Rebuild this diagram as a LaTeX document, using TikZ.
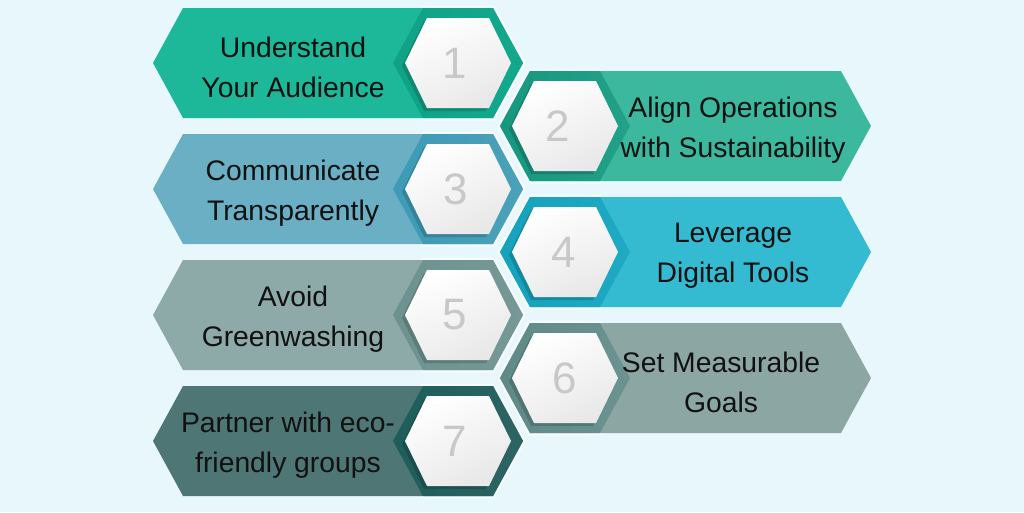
\documentclass[tikz,border=0pt]{standalone}
\usepackage{fontspec}
\setmainfont{Liberation Sans}
\definecolor{bg}{HTML}{E8F7FC}
\definecolor{bodyA}{HTML}{1DB899}\definecolor{rimA}{HTML}{0FA286}
\definecolor{bodyB}{HTML}{3CB89F}\definecolor{rimB}{HTML}{17977F}
\definecolor{bodyC}{HTML}{6AAFC4}\definecolor{rimC}{HTML}{3D9BB5}
\definecolor{bodyD}{HTML}{34BBD2}\definecolor{rimD}{HTML}{16A2BC}
\definecolor{bodyE}{HTML}{8DA9A8}\definecolor{rimE}{HTML}{6C9290}
\definecolor{bodyF}{HTML}{8CA6A4}\definecolor{rimF}{HTML}{5E8A88}
\definecolor{bodyG}{HTML}{4E7674}\definecolor{rimG}{HTML}{1E5D5B}
\definecolor{numgray}{HTML}{C8C8C8}
\definecolor{txt}{HTML}{111111}
\newcommand\hexpath[5]{(#1-#3,#2) -- (#1-#3+#5,#2-#4) -- (#1+#3-#5,#2-#4) -- (#1+#3,#2) -- (#1+#3-#5,#2+#4) -- (#1-#3+#5,#2+#4) -- cycle}
\tikzset{
  glow/.style={draw=white!55!bg, line width=5pt, line join=round},
  itemtext/.style={align=center, text=txt, inner sep=0pt, font=\fontsize{28.3}{40}\selectfont},
  numtext/.style={text=numgray, inner sep=0pt, font=\fontsize{44}{44}\selectfont},
  whitehex/.style={top color=white, bottom color=black!9, shading angle=25},
}
% #1 y, #2 body, #3 rim, #4 number, #5 number x, #6 text x, #7 text
\newcommand\leftitem[7]{%
  \draw[glow] \hexpath{458}{#1}{65}{55}{30};
  \fill[#2] \hexpath{338}{#1}{185}{55}{30};
  \shade[left color=#3, right color=#3!70!#2] \hexpath{458}{#1}{65}{55}{30};
  \fill[#3!55!black, opacity=.35] \hexpath{455}{#1+3}{53}{45}{22};
  \shade[whitehex] \hexpath{458}{#1}{53}{45}{22};
  \node[numtext] (num#4) at (#5,#1) {#4};
  \node[itemtext] (item#4) at (#6,#1+4) {#7};
}
\newcommand\rightitem[7]{%
  \draw[glow] \hexpath{565}{#1}{65}{55}{30};
  \fill[#2] \hexpath{685.5}{#1}{185.5}{55}{30};
  \shade[left color=#3, right color=#3!70!#2] \hexpath{565}{#1}{65}{55}{30};
  \fill[#3!55!black, opacity=.35] \hexpath{562}{#1+3}{53}{45}{22};
  \shade[whitehex] \hexpath{565}{#1}{53}{45}{22};
  \node[numtext] (num#4) at (#5,#1) {#4};
  \node[itemtext] (item#4) at (#6,#1+4) {#7};
}
\begin{document}
\begin{tikzpicture}[x=1pt,y=-1pt]
\fill[bg] (0,0) rectangle (1024,512);
\useasboundingbox (0,0) rectangle (1024,512);
\leftitem{63}{bodyA}{rimA}{1}{455}{293}{Understand\\Your Audience}
\rightitem{126}{bodyB}{rimB}{2}{558}{733}{Align Operations\\with Sustainability}
\leftitem{189}{bodyC}{rimC}{3}{456}{293}{Communicate\\Transparently}
\rightitem{252}{bodyD}{rimD}{4}{564}{733}{Leverage\\Digital Tools}
\leftitem{315}{bodyE}{rimE}{5}{455}{293}{Avoid\\Greenwashing}
\rightitem{378}{bodyF}{rimF}{6}{565}{721}{Set Measurable\\Goals}
\leftitem{441}{bodyG}{rimG}{7}{455}{288}{Partner with eco-\\friendly groups}
\end{tikzpicture}
\end{document}
